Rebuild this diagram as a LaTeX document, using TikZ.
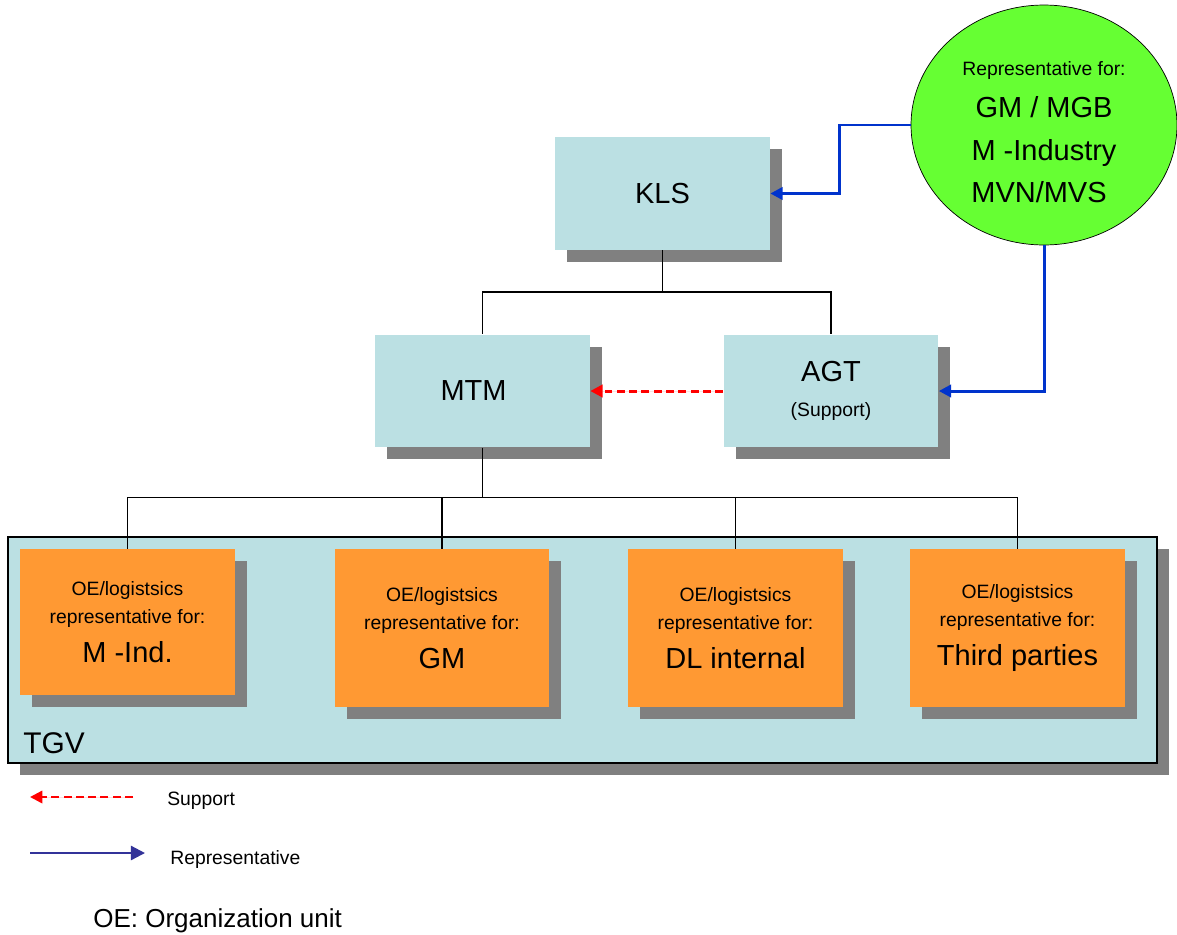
\documentclass[tikz,border=0pt]{standalone}
\usepackage{fontspec}
\setmainfont{Liberation Sans}
\usetikzlibrary{arrows.meta,shapes.geometric,shadows}
\definecolor{boxblue}{RGB}{187,224,227}
\definecolor{oeorange}{RGB}{255,153,51}
\definecolor{repgreen}{RGB}{102,255,51}
\definecolor{shadowgray}{RGB}{128,128,128}
\definecolor{repblue}{RGB}{0,51,204}
\definecolor{keyblue}{RGB}{51,51,153}
\newcommand{\oelabel}[1]{OE/logistsics\\representative for:\\[6pt]{\fontsize{16.5}{19}\selectfont #1}}

\begin{document}
\begin{tikzpicture}[x=0.02cm, y=-0.02cm,
  unitbox/.style={fill=boxblue, minimum width=4.3cm, minimum height=2.25cm, inner sep=0pt,
    align=center, font=\fontsize{16.5}{19}\selectfont,
    drop shadow={shadow xshift=0.24cm, shadow yshift=-0.24cm, fill=shadowgray, opacity=1}},
  oebox/.style={fill=oeorange, minimum width=4.3cm, minimum height=3.16cm, inner sep=0pt,
    align=center, font=\fontsize{11}{16}\selectfont,
    drop shadow={shadow xshift=0.24cm, shadow yshift=-0.24cm, fill=shadowgray, opacity=1}},
  tree/.style={line width=0.8pt},
  reparrow/.style={-{Triangle[length=7pt,width=7pt]}, draw=repblue, line width=1.7pt},
  supportarrow/.style={-{Triangle[length=7pt,width=7pt]}, draw=red, fill=red, line width=1.7pt,
    dash pattern=on 4.5pt off 2.5pt},
  keytext/.style={anchor=base west, inner sep=0pt, font=\fontsize{11}{13}\selectfont}]

\useasboundingbox (0,0) rectangle (1177,934);

% TGV frame
\node[draw, line width=0.8pt, fill=boxblue, minimum width=22.98cm, minimum height=4.52cm, inner sep=0pt,
  drop shadow={shadow xshift=0.24cm, shadow yshift=-0.24cm, fill=shadowgray, opacity=1}] (tgv) at (582.5,650) {};
\node[anchor=base west, inner sep=0pt, font=\fontsize{17}{20}\selectfont] (tgvname) at (23,753) {TGV};

% units
\node[unitbox] (kls) at (662.5,193.5) {KLS};
\node[unitbox] (mtm) at (482.5,391) {MTM\hspace*{0.36cm}};
\node[unitbox] (agt) at (831,391) {AGT\\[1pt]{\fontsize{11}{13}\selectfont (Support)}};

\node[oebox, minimum height=2.92cm] (oeind) at (127.5,622) {\oelabel{M -Ind.}};
\node[oebox] (oegm) at (442,628) {\oelabel{GM}};
\node[oebox] (oedl) at (735.5,628) {\oelabel{DL internal}};
\node[oebox] (oethird) at (1017.5,628) {\oelabel{Third parties}};

\node[ellipse, draw, fill=repgreen, minimum width=5.32cm, minimum height=4.8cm, inner sep=0pt,
  align=center, font=\fontsize{16.5}{24}\selectfont] (repell) at (1044,125)
  {{\fontsize{11}{13}\selectfont\rule{0pt}{16pt}Representative for:}\\GM / MGB\\M -Industry\\MVN/MVS\hspace*{0.2cm}};

% hierarchy
\draw[tree] (kls.south) -- ++(0,42) coordinate (klsfork);
\draw[tree] (klsfork) -| (mtm.north);
\draw[tree] (klsfork) -| (agt.north);
\draw[tree] (mtm.south) -- ++(0,50) coordinate (mtmfork);
\draw[tree] (mtmfork) -| (oeind.north);
\draw[tree] (mtmfork) -| (oegm.north);
\draw[tree] (mtmfork) -| (oedl.north);
\draw[tree] (mtmfork) -| (oethird.north);

% representative and support
\draw[reparrow] (repell.west) -- ++(-71,0) |- (kls.east);
\draw[reparrow] (repell.south) |- (agt.east);
\draw[supportarrow] (agt.west) -- (mtm.east);

% key
\coordinate (supA) at (133,797);
\coordinate (supB) at (30,797);
\draw[supportarrow, line width=1.4pt] (supA) -- (supB);
\node[keytext] (supkey) at (167,805) {Support};
\coordinate (repA) at (30,853);
\coordinate (repB) at (145,853);
\draw[-{Triangle[length=8pt,width=8pt]}, draw=keyblue, line width=1.3pt] (repA) -- (repB);
\node[keytext] (repkey) at (170,864) {Representative};
\node[keytext, font=\fontsize{14.8}{17}\selectfont] (oekey) at (93,927) {OE: Organization unit};

\end{tikzpicture}
\end{document}
